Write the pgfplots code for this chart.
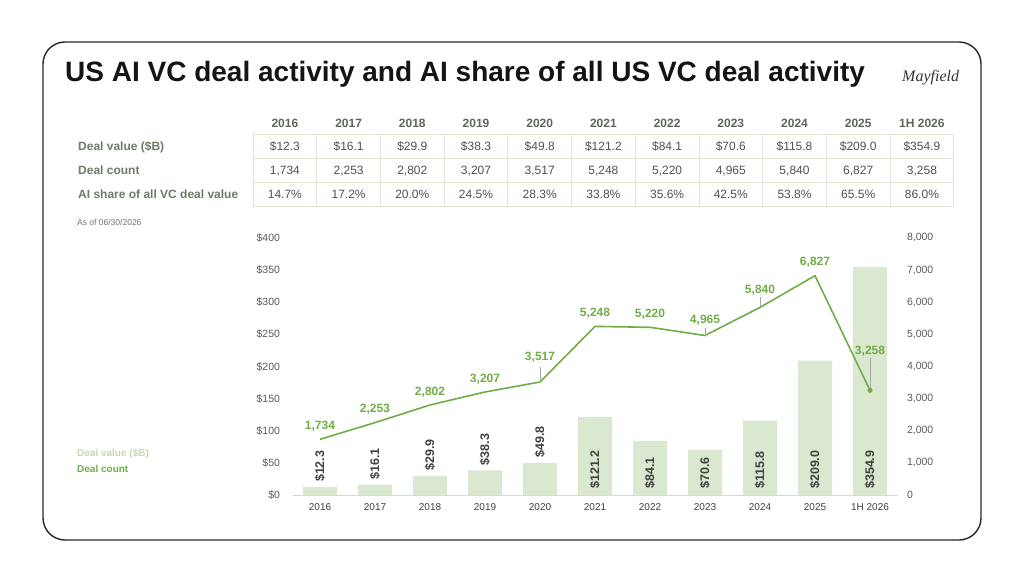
\documentclass[border=0pt]{standalone}
\usepackage{fontspec}
\setmainfont{Liberation Sans}
\newfontfamily\logofont{Liberation Serif}
\usepackage{pgfplots}
\usepackage{pgfplotstable}
\pgfplotsset{compat=1.18}

\definecolor{gline}{HTML}{70AD47}
\definecolor{gbar}{HTML}{DAE8CF}
\definecolor{glight}{HTML}{C2D9AF}
\definecolor{tgrid}{HTML}{DDE7D5}
\definecolor{rowlab}{HTML}{6B7D66}
\definecolor{hdr}{HTML}{5E665B}
\definecolor{celltxt}{HTML}{505050}
\definecolor{ticktxt}{HTML}{595959}
\definecolor{axgray}{HTML}{D9D9D9}
\definecolor{leadgray}{HTML}{A6A6A6}
\definecolor{barlab}{HTML}{404040}

\newcommand{\fs}[1]{\fontsize{#1}{#1}\selectfont}

\pgfplotstableread{
x val
0 12.3
1 16.1
2 29.9
3 38.3
4 49.8
5 121.2
6 84.1
7 70.6
8 115.8
9 209.0
10 354.9
}\valtab

\pgfplotstableread{
x cnt lead
0 1734 0
1 2253 0
2 2802 0
3 3207 0
4 3517 470
5 5248 0
6 5220 0
7 4965 230
8 5840 310
9 6827 0
10 3258 1000
}\cnttab

\pgfplotsset{cntlab/.style={draw=none, mark=none, point meta=y,
  nodes near coords={\pgfmathprintnumber{\pgfplotspointmeta}},
  nodes near coords style={anchor=base, inner sep=0pt, yshift=#1, font=\fs{12}\bfseries, text=gline}}}

\begin{document}
\begin{tikzpicture}[x=1pt,y=1pt]
\path[use as bounding box] (0,0) rectangle (1024,576);
\draw[line width=1.4pt, rounded corners=22pt, black!85] (43,36) rectangle (981,534);

% title and logo
\node[anchor=base west, inner sep=0pt, font=\fs{28}\bfseries, text=black!92] at (65,494)
  {US AI VC deal activity and AI share of all US VC deal activity};
\node[anchor=base west, inner sep=0pt, font=\logofont\itshape\fs{16}, text=black!80] at (902,494) {Mayfield};

% table grid
\foreach \yy in {442,418,394,370} \draw[tgrid, line width=0.8pt] (253,\yy) -- (954,\yy);
\foreach \k in {0,...,11} \draw[tgrid, line width=0.8pt] (253+63.7*\k,442) -- (253+63.7*\k,370);

% header
\foreach \t [count=\i from 0] in {2016,2017,2018,2019,2020,2021,2022,2023,2024,2025,1H 2026}
  \node[anchor=base, inner sep=0pt, font=\fs{12}\bfseries, text=hdr] at (284.9+63.7*\i,448.5) {\t};
% row labels
\node[anchor=base west, inner sep=0pt, font=\fs{12}\bfseries, text=rowlab] at (78,425.7) {Deal value (\$B)};
\node[anchor=base west, inner sep=0pt, font=\fs{12}\bfseries, text=rowlab] at (78,401.7) {Deal count};
\node[anchor=base west, inner sep=0pt, font=\fs{12}\bfseries, text=rowlab] at (78,377.7) {AI share of all VC deal value};
% cells
\foreach \t [count=\i from 0] in {\$12.3,\$16.1,\$29.9,\$38.3,\$49.8,\$121.2,\$84.1,\$70.6,\$115.8,\$209.0,\$354.9}
  \node[anchor=base, inner sep=0pt, font=\fs{12}, text=celltxt] at (284.9+63.7*\i,425.7) {\t};
\foreach \t [count=\i from 0] in {{1,734},{2,253},{2,802},{3,207},{3,517},{5,248},{5,220},{4,965},{5,840},{6,827},{3,258}}
  \node[anchor=base, inner sep=0pt, font=\fs{12}, text=celltxt] at (284.9+63.7*\i,401.7) {\t};
\foreach \t [count=\i from 0] in {14.7\%,17.2\%,20.0\%,24.5\%,28.3\%,33.8\%,35.6\%,42.5\%,53.8\%,65.5\%,86.0\%}
  \node[anchor=base, inner sep=0pt, font=\fs{12}, text=celltxt] at (284.9+63.7*\i,377.7) {\t};

\node[anchor=base west, inner sep=0pt, font=\fs{8.5}, text=black!55] at (77,350) {As of 06/30/2026};

% legend text
\node[anchor=base west, inner sep=0pt, font=\fs{10}\bfseries, text=glight] at (77,119.7) {Deal value (\$B)};
\node[anchor=base west, inner sep=0pt, font=\fs{10}\bfseries, text=gline] at (77,103.1) {Deal count};

% bars (left axis)
\begin{axis}[
  scale only axis, width=605pt, height=257pt,
  at={(292.5pt,81pt)}, anchor=south west,
  xmin=-0.5, xmax=10.5, ymin=0, ymax=400,
  ytick={0,50,...,400},
  xtick={0,...,10},
  xticklabels={2016,2017,2018,2019,2020,2021,2022,2023,2024,2025,1H 2026},
  axis x line*=bottom, axis y line*=left,
  x axis line style={-, draw=axgray, line width=0.9pt},
  y axis line style={-, draw=none},
  major tick length=0pt,
  /pgf/number format/assume math mode=true,
  yticklabel={\$\pgfmathprintnumber{\tick}},
  yticklabel style={font=\fs{10.5}, text=ticktxt, xshift=-9pt},
  xticklabel style={font=\fs{10}, text=barlab, yshift=-5pt},
  clip=false,
]
\addplot[ybar, bar width=34pt, fill=gbar, draw=none] table[x=x,y=val]{\valtab};
\addplot[draw=none, mark=none, point meta=explicit symbolic,
  nodes near coords={\pgfplotspointmeta},
  nodes near coords style={rotate=90, anchor=west, inner sep=5pt, font=\fs{12.5}\bfseries, text=barlab}]
  coordinates {(0,12.3)[\$12.3] (1,16.1)[\$16.1] (2,29.9)[\$29.9] (3,38.3)[\$38.3] (4,49.8)[\$49.8]};
\addplot[draw=none, mark=none, point meta=explicit symbolic,
  nodes near coords={\pgfplotspointmeta},
  nodes near coords style={rotate=90, anchor=west, inner sep=6pt, font=\fs{12.5}\bfseries, text=barlab}]
  coordinates {(5,0)[\$121.2] (6,0)[\$84.1] (7,0)[\$70.6] (8,0)[\$115.8] (9,0)[\$209.0] (10,0)[\$354.9]};
\end{axis}

% line (right axis)
\begin{axis}[
  scale only axis, width=605pt, height=257pt,
  at={(292.5pt,81pt)}, anchor=south west,
  xmin=-0.5, xmax=10.5, ymin=0, ymax=8000,
  ytick={0,1000,...,8000},
  axis y line*=right, axis x line=none,
  y axis line style={-, draw=none},
  major tick length=0pt,
  /pgf/number format/.cd, 1000 sep={,}, assume math mode=true, /pgfplots/.cd,
  yticklabel style={font=\fs{10.5}, text=ticktxt, xshift=6pt},
  clip=false,
]
\addplot[gline, line width=1.6pt, mark=none,
  error bars/.cd, y dir=plus, y explicit, error mark=none,
  error bar style={leadgray, line width=0.7pt}]
  table[x=x, y=cnt, y error=lead]{\cnttab};
\addplot[only marks, mark=*, mark size=2.3pt, gline] coordinates {(10,3258)};
\addplot[cntlab=9.8pt] coordinates {(0,1734) (1,2253) (2,2802) (3,3207) (5,5248) (6,5220) (9,6827)};
\addplot[cntlab=21.7pt] coordinates {(4,3517)};
\addplot[cntlab=11.7pt] coordinates {(7,4965)};
\addplot[cntlab=14.1pt] coordinates {(8,5840)};
\addplot[cntlab=35.7pt] coordinates {(10,3258)};
\end{axis}
\end{tikzpicture}
\end{document}
